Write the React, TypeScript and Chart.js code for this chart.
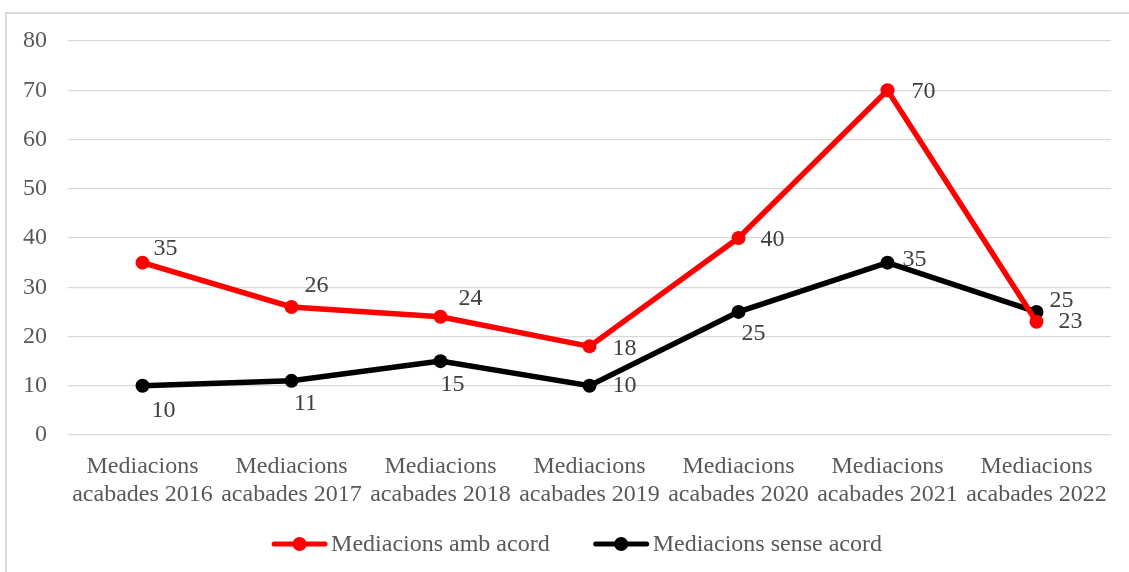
import React, { useEffect, useRef } from "react";
import { Chart, registerables } from "chart.js";

Chart.register(...registerables);

const categories: string[][] = [
  ["Mediacions", "acabades 2016"],
  ["Mediacions", "acabades 2017"],
  ["Mediacions", "acabades 2018"],
  ["Mediacions", "acabades 2019"],
  ["Mediacions", "acabades 2020"],
  ["Mediacions", "acabades 2021"],
  ["Mediacions", "acabades 2022"],
];
const ambAcord: number[] = [35, 26, 24, 18, 40, 70, 23];
const senseAcord: number[] = [10, 11, 15, 10, 25, 35, 25];
const seriesNames: string[] = ["Mediacions amb acord", "Mediacions sense acord"];
const yTicksMax = 80;
const yTicksStep = 10;

// label placement offsets (style, px relative to point)
const labelOffsets: [number, number][][] = [
  [[23, -14], [25, -21], [30, -18], [35, 2], [34, 2], [36, 1], [34, 0]],
  [[21, 25], [14, 23], [12, 24], [35, 0], [15, 22], [27, -3], [25, -11]],
];

const FONT = "'Liberation Serif', 'Times New Roman', serif";
const TEXT = "#595959";
const GRID = "#d9d9d9";

const frame = {
  id: "frame",
  beforeDraw(chart: any) {
    const ctx = chart.ctx;
    ctx.save();
    ctx.fillStyle = "#ffffff";
    ctx.fillRect(0, 0, chart.width, chart.height);
    ctx.strokeStyle = GRID;
    ctx.lineWidth = 2;
    ctx.strokeRect(6, 13, chart.width + 20, chart.height + 20);
    ctx.restore();
  },
};

const dataLabels = {
  id: "dataLabels",
  afterDatasetsDraw(chart: any) {
    const ctx = chart.ctx;
    ctx.save();
    ctx.font = `24px ${FONT}`;
    ctx.fillStyle = "#404040";
    ctx.textAlign = "center";
    ctx.textBaseline = "middle";
    chart.data.datasets.forEach((ds: any, di: number) => {
      const meta = chart.getDatasetMeta(di);
      meta.data.forEach((pt: any, i: number) => {
        const off = labelOffsets[di][i];
        ctx.fillText(String(ds.data[i]), pt.x + off[0], pt.y + off[1]);
      });
    });
    ctx.restore();
  },
};

const customLegend = {
  id: "customLegend",
  afterDraw(chart: any) {
    const ctx = chart.ctx;
    ctx.save();
    ctx.font = `24px ${FONT}`;
    const lineLen = 55;
    const gapText = 4;
    const gapItems = 44;
    const items = chart.data.datasets.map((ds: any) => ({
      label: ds.label,
      color: ds.borderColor,
      w: lineLen + gapText + ctx.measureText(ds.label).width,
    }));
    const total = items.reduce((s: number, it: any) => s + it.w, 0) + gapItems * (items.length - 1);
    let x = 577 - total / 2;
    const y = 544;
    items.forEach((it: any) => {
      ctx.strokeStyle = it.color;
      ctx.lineWidth = 5;
      ctx.lineCap = "round";
      ctx.beginPath();
      ctx.moveTo(x + 2, y);
      ctx.lineTo(x + lineLen - 2, y);
      ctx.stroke();
      ctx.fillStyle = it.color;
      ctx.beginPath();
      ctx.arc(x + lineLen / 2, y, 7, 0, Math.PI * 2);
      ctx.fill();
      ctx.fillStyle = TEXT;
      ctx.textAlign = "left";
      ctx.textBaseline = "middle";
      ctx.fillText(it.label, x + lineLen + gapText, y + 1);
      x += it.w + gapItems;
    });
    ctx.restore();
  },
};

export default function App() {
  const ref = useRef<HTMLCanvasElement | null>(null);
  useEffect(() => {
    document.body.style.margin = "0";
    const c = ref.current;
    if (!c) return;
    const chart = new Chart(c, {
      type: "line",
      data: {
        labels: categories,
        datasets: [
          {
            label: seriesNames[0],
            data: ambAcord,
            borderColor: "#ff0000",
            backgroundColor: "#ff0000",
            borderWidth: 5.5,
            pointRadius: 7,
            pointBorderWidth: 0,
            tension: 0,
          },
          {
            label: seriesNames[1],
            data: senseAcord,
            borderColor: "#000000",
            backgroundColor: "#000000",
            borderWidth: 5.5,
            pointRadius: 7,
            pointBorderWidth: 0,
            tension: 0,
          },
        ],
      },
      options: {
        animation: false,
        responsive: false,
        devicePixelRatio: 1,
        layout: { padding: { left: 0, right: 18, top: 41, bottom: 0 } },
        plugins: {
          legend: { display: false },
          tooltip: { enabled: false },
        },
        scales: {
          x: {
            offset: true,
            grid: { display: false },
            border: { display: false },
            ticks: {
              color: TEXT,
              font: { family: FONT, size: 24, lineHeight: 1.15 },
              padding: 10,
              maxRotation: 0,
              autoSkip: false,
            },
            afterFit(scale: any) {
              scale.height = 137;
            },
          },
          y: {
            min: 0,
            max: yTicksMax,
            grid: { color: GRID, lineWidth: 1.3, drawTicks: false },
            border: { display: false },
            ticks: {
              stepSize: yTicksStep,
              color: TEXT,
              font: { family: FONT, size: 24 },
              padding: 21,
            },
            afterFit(scale: any) {
              scale.width = 68;
            },
          },
        },
      },
      plugins: [frame, dataLabels, customLegend],
    } as any);
    return () => chart.destroy();
  }, []);
  return <canvas ref={ref} width={1129} height={572} style={{ display: "block" }} />;
}
